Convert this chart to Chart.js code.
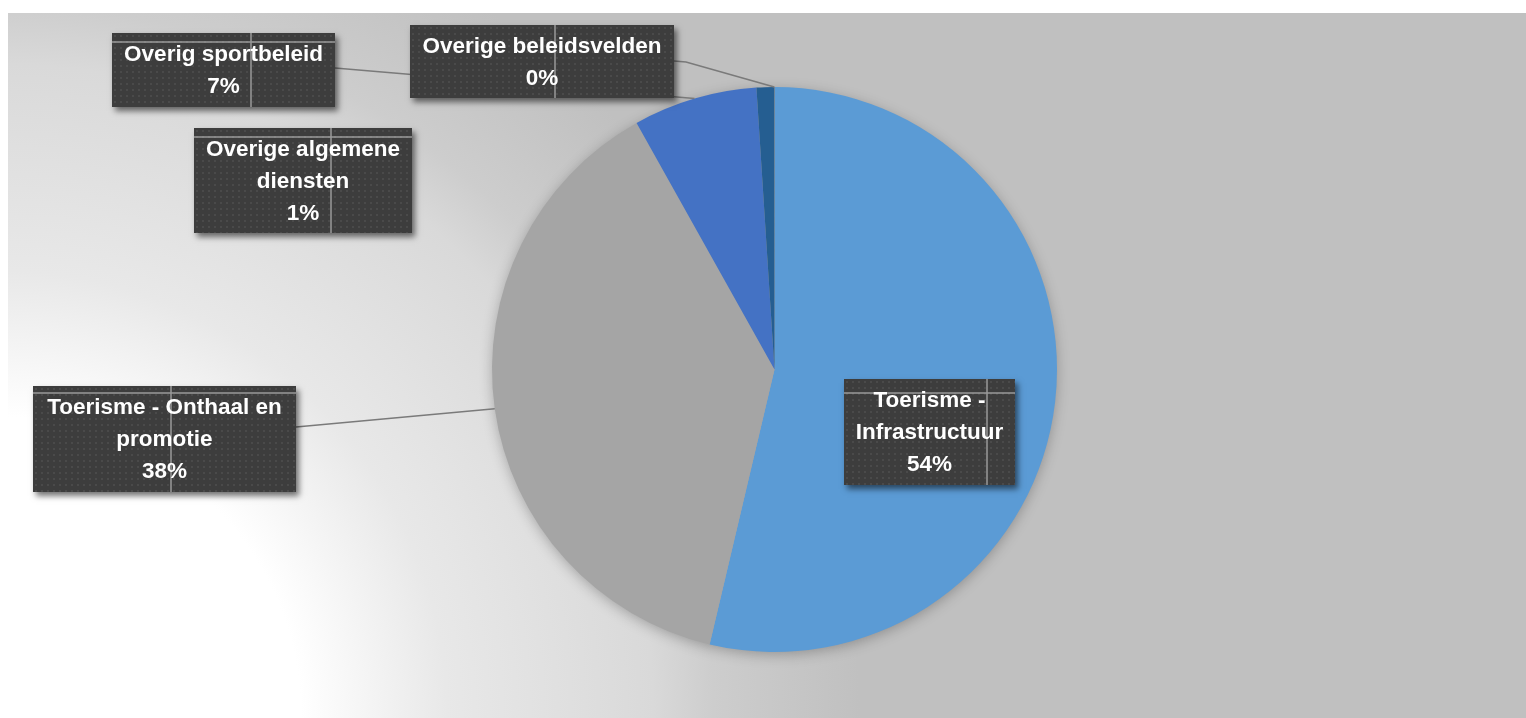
<!DOCTYPE html>
<html>
<head>
<meta charset="utf-8">
<script src="https://cdn.jsdelivr.net/npm/chart.js@4/dist/chart.umd.min.js"></script>
<style>
	html, body { margin: 0; padding: 0; background: #fff; }
	#wrap { width: 1526px; height: 718px; position: relative; }
</style>
</head>
<body>
<div id="wrap"><canvas id="pie"></canvas></div>
<script>
// categories (multi-line, as in the data labels)
const categories = [
	["Toerisme -", "Infrastructuur"],
	["Toerisme - Onthaal en", "promotie"],
	["Overig sportbeleid"],
	["Overige algemene", "diensten"],
	["Overige beleidsvelden"],
];
// shares (percent)
const shares = [53.7, 38.2, 7.1, 1.0, 0.02];
const sliceColors = ["#5B9BD5", "#A5A5A5", "#4472C4", "#255E91", "#636363"];

// label box layout (Excel placed these by hand)
const labelBoxes = [
	{ x: 844, y: 379, w: 171, h: 106, vLine: 143, hLine: 14, leader: null },
	{ x: 33, y: 386, w: 263, h: 106, vLine: 138, hLine: 7, leader: { dy: 41 } },
	{ x: 112, y: 33, w: 223, h: 74, vLine: 139, hLine: 9, leader: { dy: 35 } },
	{ x: 194, y: 128, w: 218, h: 105, vLine: 137, hLine: 9, leader: null },
	{ x: 410, y: 25, w: 264, h: 73, vLine: 145, hLine: null, leader: { dy: 36, elbow: 12 } },
];

const LABEL_FONT = "bold 22.5px 'Liberation Sans', Arial, sans-serif";
const LINE_H = 32;

function makeDotPattern(ctx) {
	const c = document.createElement("canvas");
	c.width = 6;
	c.height = 6;
	const g = c.getContext("2d");
	g.fillStyle = "#3d3d3d";
	g.fillRect(0, 0, 6, 6);
	g.fillStyle = "#4a4a4a";
	g.fillRect(2, 2, 2, 2);
	return ctx.createPattern(c, "repeat");
}

// grey radial background, white in the lower left corner
const backgroundPlugin = {
	id: "backgroundPlugin",
	beforeDraw(chart) {
		const ctx = chart.ctx;
		const w = chart.width;
		const h = chart.height;
		ctx.save();
		ctx.fillStyle = "#ffffff";
		ctx.fillRect(0, 0, w, h);
		const grad = ctx.createRadialGradient(0, h, 0, 0, h, 860);
		grad.addColorStop(0, "#ffffff");
		grad.addColorStop(0.35, "#ffffff");
		grad.addColorStop(0.52, "#e8e8e8");
		grad.addColorStop(0.76, "#d9d9d9");
		grad.addColorStop(0.83, "#cdcdcd");
		grad.addColorStop(1, "#c0c0c0");
		ctx.fillStyle = grad;
		ctx.fillRect(8, 13, w - 8, h - 13);
		ctx.restore();
	},
	// soft shadow under the pie
	beforeDatasetsDraw(chart) {
		const arc = chart.getDatasetMeta(0).data[0];
		if (!arc) return;
		const ctx = chart.ctx;
		ctx.save();
		ctx.shadowColor = "rgba(0,0,0,0.28)";
		ctx.shadowBlur = 14;
		ctx.shadowOffsetY = 3;
		ctx.fillStyle = "#a5a5a5";
		ctx.beginPath();
		ctx.arc(arc.x, arc.y, arc.outerRadius - 1, 0, Math.PI * 2);
		ctx.fill();
		ctx.restore();
	},
};

// dark callout boxes with leader lines
const calloutPlugin = {
	id: "calloutPlugin",
	afterDatasetsDraw(chart) {
		const ctx = chart.ctx;
		const meta = chart.getDatasetMeta(0);
		const values = chart.data.datasets[0].data;
		const total = values.reduce((a, b) => a + b, 0);
		const pattern = makeDotPattern(ctx);

		ctx.save();
		// leader lines first, boxes cover them
		ctx.strokeStyle = "#7a7a7a";
		ctx.lineWidth = 1.6;
		labelBoxes.forEach((box, i) => {
			if (!box.leader) return;
			const arc = meta.data[i];
			const mid = (arc.startAngle + arc.endAngle) / 2;
			const px = arc.x + Math.cos(mid) * arc.outerRadius;
			const py = arc.y + Math.sin(mid) * arc.outerRadius;
			const sx = box.x + box.w;
			const sy = box.y + box.leader.dy;
			ctx.beginPath();
			ctx.moveTo(sx, sy);
			if (box.leader.elbow) ctx.lineTo(sx + box.leader.elbow, sy + 1);
			ctx.lineTo(px, py);
			ctx.stroke();
		});

		labelBoxes.forEach((box, i) => {
			// box with shadow
			ctx.save();
			ctx.shadowColor = "rgba(0,0,0,0.55)";
			ctx.shadowBlur = 6;
			ctx.shadowOffsetX = 3;
			ctx.shadowOffsetY = 4;
			ctx.fillStyle = "#3d3d3d";
			ctx.fillRect(box.x, box.y, box.w, box.h);
			ctx.restore();

			ctx.save();
			ctx.translate(box.x, box.y);
			ctx.fillStyle = pattern;
			ctx.fillRect(0, 0, box.w, box.h);
			ctx.restore();

			ctx.strokeStyle = "rgba(185,185,185,0.75)";
			ctx.lineWidth = 1.5;
			ctx.beginPath();
			ctx.moveTo(box.x + box.vLine, box.y);
			ctx.lineTo(box.x + box.vLine, box.y + box.h);
			if (box.hLine !== null) {
				ctx.moveTo(box.x, box.y + box.hLine);
				ctx.lineTo(box.x + box.w, box.y + box.hLine);
			}
			ctx.stroke();

			// text
			const lines = chart.data.labels[i].concat([Math.round((values[i] / total) * 100) + "%"]);
			ctx.font = LABEL_FONT;
			ctx.fillStyle = "#ffffff";
			ctx.textAlign = "center";
			ctx.textBaseline = "middle";
			const cy = box.y + box.h / 2;
			lines.forEach((t, k) => {
				ctx.fillText(t, box.x + box.w / 2, cy + (k - (lines.length - 1) / 2) * LINE_H + 1);
			});
		});
		ctx.restore();
	},
};

new Chart(document.getElementById("pie").getContext("2d"), {
	type: "pie",
	data: {
		labels: categories,
		datasets: [
			{
				data: shares,
				backgroundColor: sliceColors,
				borderWidth: 0,
			},
		],
	},
	options: {
		responsive: true,
		maintainAspectRatio: false,
		animation: false,
		layout: {
			padding: { left: 492, right: 469, top: 87, bottom: 66 },
		},
		plugins: {
			legend: { display: false },
			tooltip: { enabled: false },
		},
	},
	plugins: [backgroundPlugin, calloutPlugin],
});
</script>
</body>
</html>
